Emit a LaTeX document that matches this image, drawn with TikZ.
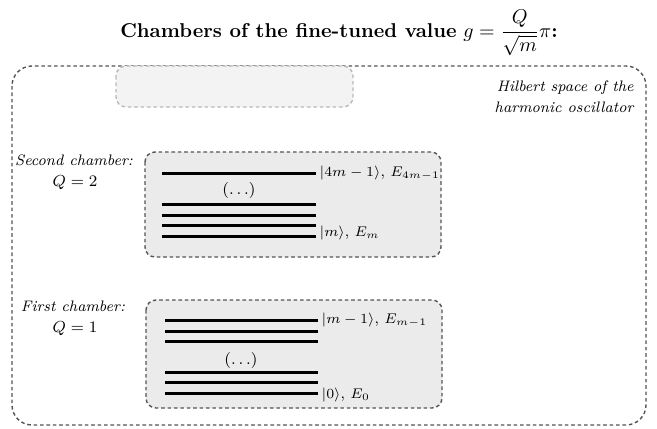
\documentclass[tikz,border=0pt]{standalone}
\usepackage{amsmath}
\usetikzlibrary{positioning}
\definecolor{chamberfill}{HTML}{EBEBEB}
\definecolor{fadedfill}{HTML}{F3F3F3}
\definecolor{edgegray}{HTML}{555555}

\begin{document}
\begin{tikzpicture}[x=0.5pt,y=-0.5pt,
  hilbert/.style={draw=edgegray,line width=0.7pt,dash pattern=on 1.8pt off 1.4pt,rounded corners=10pt},
  chamber/.style={draw=edgegray,line width=0.7pt,dash pattern=on 1.8pt off 1.4pt,rounded corners=5pt,fill=chamberfill},
  faded/.style={draw=gray!55,line width=0.7pt,dash pattern=on 1.8pt off 1.4pt,rounded corners=5pt,fill=fadedfill},
  level/.style={line width=1.5pt},
  statelbl/.style={anchor=west,inner sep=1pt,font=\fontsize{7.5}{9}\selectfont},
  sidelbl/.style={align=center,inner sep=1pt,font=\fontsize{7.6}{10.5}\selectfont\itshape},
  qlbl/.style={inner sep=1pt,font=\fontsize{8.5}{10}\selectfont},
  dotlbl/.style={inner sep=1pt,font=\fontsize{8}{9.6}\selectfont}]
\useasboundingbox (0,0) rectangle (657,428);
\node (title) at (339,33) {\textbf{Chambers of the fine-tuned value} $g=\dfrac{Q}{\sqrt{m}}\pi$\textbf{:}};
% Hilbert space
\draw[hilbert] (12,66) rectangle (646,425);
\draw[faded] (116,66) rectangle (353,107);
\node[sidelbl,anchor=east,align=right] (hilb) at (636,97) {Hilbert space of the\\harmonic oscillator};
% second chamber
\draw[chamber] (145,152) rectangle (441,257);
\node[sidelbl] (sec) at (74,160) {Second chamber:};
\node[qlbl] (secq) at (75,183) {$Q=2$};
\draw[level] (162,173) -- (316,173) node[statelbl] (top2) {$|4m-1\rangle$, $E_{4m-1}$};
\node[dotlbl] (dots2) at (239,190) {$(\ldots)$};
\foreach \y in {204,215,225} \draw[level] (162,\y) -- (316,\y);
\draw[level] (162,236) -- (316,236) node[statelbl,yshift=1.5pt] (bot2) {$|m\rangle$, $E_m$};
% first chamber
\draw[chamber] (146,300) rectangle (442,408);
\node[sidelbl] (fst) at (73,306) {First chamber:};
\node[qlbl] (fstq) at (75,329) {$Q=1$};
\draw[level] (165,320) -- (318,320) node[statelbl] (top1) {$|m-1\rangle$, $E_{m-1}$};
\foreach \y in {331,341,372,382} \draw[level] (165,\y) -- (318,\y);
\node[dotlbl] (dots1) at (241,360) {$(\ldots)$};
\draw[level] (165,393) -- (318,393) node[statelbl,yshift=-1pt] (bot1) {$|0\rangle$, $E_0$};
\end{tikzpicture}
\end{document}
